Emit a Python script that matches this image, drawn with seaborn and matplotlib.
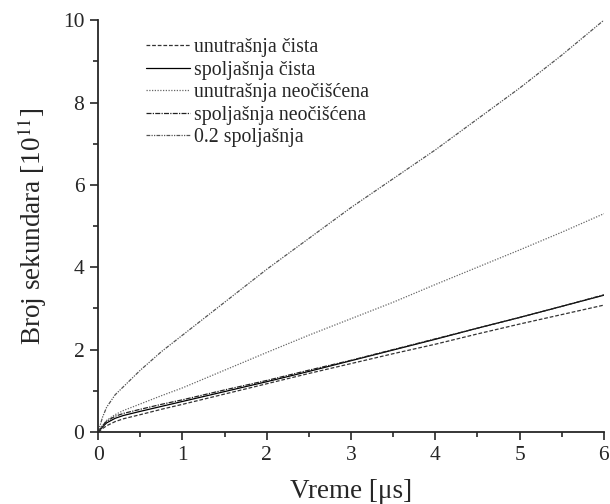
import matplotlib
matplotlib.use("Agg")
import matplotlib.pyplot as plt
import seaborn as sns
import pandas as pd
from matplotlib.ticker import MultipleLocator

# vrijeme [us]
vreme = [0, 0.05, 0.1, 0.2, 0.3, 0.5, 0.75, 1.0, 1.5, 2.0, 2.5, 3.0, 3.5, 4.0, 4.5, 5.0, 5.5, 6.0]

# broj sekundara [1e11]
unutrasnja_cista = [0, 0.08, 0.15, 0.25, 0.32, 0.42, 0.55, 0.67, 0.92, 1.17, 1.42, 1.66, 1.90, 2.13, 2.38, 2.62, 2.85, 3.08]
spoljasnja_cista = [0, 0.12, 0.22, 0.33, 0.40, 0.50, 0.62, 0.74, 0.98, 1.22, 1.47, 1.73, 1.99, 2.25, 2.52, 2.78, 3.05, 3.32]
unutrasnja_neociscena = [0, 0.15, 0.28, 0.42, 0.52, 0.68, 0.88, 1.07, 1.50, 1.93, 2.35, 2.75, 3.15, 3.58, 4.00, 4.42, 4.85, 5.30]
spoljasnja_neociscena = [0, 0.15, 0.26, 0.38, 0.45, 0.55, 0.67, 0.78, 1.02, 1.25, 1.50, 1.74, 2.00, 2.26, 2.52, 2.78, 3.05, 3.33]
spoljasnja_02 = [0, 0.35, 0.60, 0.90, 1.10, 1.50, 1.95, 2.35, 3.15, 3.95, 4.70, 5.45, 6.15, 6.85, 7.60, 8.35, 9.15, 10.0]

serije = [
    ("unutrašnja čista", unutrasnja_cista, (0, (3, 1.5)), "#333333"),
    ("spoljašnja čista", spoljasnja_cista, "-", "black"),
    ("unutrašnja neočišćena", unutrasnja_neociscena, (0, (1, 1.2)), "#666666"),
    ("spoljašnja neočišćena", spoljasnja_neociscena, (0, (4, 1, 1, 1)), "#222222"),
    ("0.2 spoljašnja", spoljasnja_02, (0, (3, 1, 1, 1, 1, 1)), "#555555"),
]

sns.set_style("ticks")
plt.rcParams['font.family'] = ['Liberation Serif', 'DejaVu Serif']
plt.rcParams['mathtext.fontset'] = 'stix'

fig = plt.figure(figsize=(6.1, 5.04), dpi=100)
ax = fig.add_axes([0.161, 0.143, 0.829, 0.817])

for ime, vrijednosti, stil, boja in serije:
    df = pd.DataFrame({"x": vreme, "y": vrijednosti})
    sns.lineplot(data=df, x="x", y="y", ax=ax, label=ime, color=boja,
                 linestyle=stil, linewidth=0.9)

ax.set_xlim(0, 6)
ax.set_ylim(0, 10)
ax.xaxis.set_major_locator(MultipleLocator(1))
ax.xaxis.set_minor_locator(MultipleLocator(0.5))
ax.yaxis.set_major_locator(MultipleLocator(2))
ax.yaxis.set_minor_locator(MultipleLocator(1))
ax.tick_params(which="major", length=6, width=1.2, labelsize=15.5, direction="out", pad=4)
ax.tick_params(which="minor", length=3.5, width=1.2, direction="out")
for s in ["left", "bottom"]:
    ax.spines[s].set_linewidth(1.3)
sns.despine(ax=ax)

ax.set_xlabel("Vreme [μs]", fontsize=19.5, labelpad=10)
ax.set_ylabel("Broj sekundara [10$^{11}$]", fontsize=19.5, labelpad=10)

leg = ax.legend(loc="upper left", bbox_to_anchor=(0.078, 0.975), frameon=False,
                fontsize=14.3, handlelength=2.26, handletextpad=0.2,
                labelspacing=0.17, borderaxespad=0)
for h in leg.get_lines():
    h.set_linewidth(0.9)

fig.savefig("out.png", dpi=100)
